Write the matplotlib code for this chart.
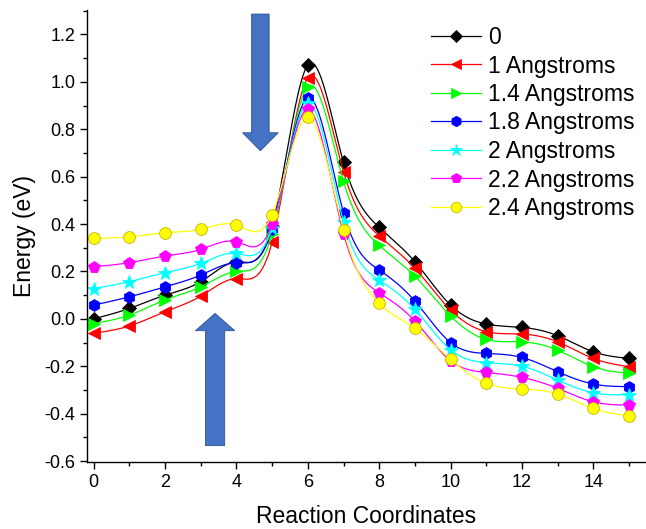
import numpy as np
import matplotlib
matplotlib.use("Agg")
import matplotlib.pyplot as plt
from matplotlib.patches import FancyArrow
from matplotlib.ticker import MultipleLocator

plt.rcParams['font.family'] = ['Liberation Sans', 'DejaVu Sans']
plt.rcParams['axes.unicode_minus'] = False

# reaction coordinate index
x = np.arange(16)

# energies (eV)
e_0 = [0.00, 0.044, 0.10, 0.157, 0.24, 0.39, 1.071, 0.66, 0.386, 0.241,
       0.058, -0.022, -0.036, -0.071, -0.139, -0.167]
e_10 = [-0.061, -0.03, 0.03, 0.096, 0.17, 0.325, 1.017, 0.62, 0.35, 0.213,
        0.037, -0.054, -0.064, -0.097, -0.167, -0.202]
e_14 = [-0.02, 0.016, 0.08, 0.135, 0.20, 0.36, 0.98, 0.58, 0.31, 0.18,
        0.012, -0.087, -0.097, -0.132, -0.202, -0.23]
e_18 = [0.058, 0.093, 0.135, 0.185, 0.237, 0.38, 0.933, 0.448, 0.206, 0.075,
        -0.10, -0.146, -0.163, -0.223, -0.275, -0.286]
e_20 = [0.128, 0.157, 0.195, 0.234, 0.276, 0.385, 0.909, 0.41, 0.164, 0.04,
        -0.13, -0.185, -0.20, -0.258, -0.312, -0.32]
e_22 = [0.22, 0.237, 0.265, 0.293, 0.325, 0.40, 0.884, 0.36, 0.11, -0.009,
        -0.177, -0.226, -0.247, -0.293, -0.35, -0.364]
e_24 = [0.34, 0.346, 0.363, 0.378, 0.396, 0.44, 0.85, 0.375, 0.065, -0.04,
        -0.171, -0.272, -0.296, -0.317, -0.378, -0.41]

labels = ['0', '1 Angstroms', '1.4 Angstroms', '1.8 Angstroms',
          '2 Angstroms', '2.2 Angstroms', '2.4 Angstroms']
series = [e_0, e_10, e_14, e_18, e_20, e_22, e_24]
colors = ['black', '#ff0000', '#00ff00', '#0000ff', '#00ffff', '#ff00ff', '#ffff00']
markers = ['D', '<', '>', 'h', '*', 'p', 'o']
msizes = [7.5, 8.5, 8.5, 8.5, 10, 8.5, 8.5]


def natural_spline(xs, ys, n=600):
    xs = np.asarray(xs, float)
    ys = np.asarray(ys, float)
    k = len(xs)
    h = np.diff(xs)
    A = np.zeros((k, k))
    b = np.zeros(k)
    A[0, 0] = A[-1, -1] = 1
    for i in range(1, k - 1):
        A[i, i - 1] = h[i - 1]
        A[i, i] = 2 * (h[i - 1] + h[i])
        A[i, i + 1] = h[i]
        b[i] = 6 * ((ys[i + 1] - ys[i]) / h[i] - (ys[i] - ys[i - 1]) / h[i - 1])
    M = np.linalg.solve(A, b)
    xf = np.linspace(xs[0], xs[-1], n)
    idx = np.clip(np.searchsorted(xs, xf) - 1, 0, k - 2)
    x0, x1 = xs[idx], xs[idx + 1]
    hh = x1 - x0
    t0, t1 = x1 - xf, xf - x0
    yf = (M[idx] * t0 ** 3 + M[idx + 1] * t1 ** 3) / (6 * hh) \
        + (ys[idx] / hh - M[idx] * hh / 6) * t0 \
        + (ys[idx + 1] / hh - M[idx + 1] * hh / 6) * t1
    return xf, yf


fig = plt.figure(figsize=(6.46, 5.29), dpi=100)
ax = fig.add_axes([87 / 646, 1 - 462 / 529, (645 - 87) / 646, (462 - 10) / 529])

for ys, c, m, ms, lab in zip(series, colors, markers, msizes, labels):
    xf, yf = natural_spline(x, ys)
    ax.plot(xf, yf, color=c, lw=0.9)
    ec = '#c8b400' if c == '#ffff00' else c
    ax.plot(x, ys, ls='none', marker=m, ms=ms, color=c, mec=ec, mew=0.6)
    ax.plot([], [], color=c, lw=0.9, marker=m, ms=ms - 1, mec=ec, mew=0.6, label=lab)

# arrows
arrow_kw = dict(length_includes_head=True, fc='#4472c4', ec='#2f528f', lw=0.6, zorder=5)
ax.add_patch(FancyArrow(4.67, 1.286, 0, 0.709 - 1.286, width=0.49,
                        head_width=1.0, head_length=0.076, **arrow_kw))
ax.add_patch(FancyArrow(3.40, -0.535, 0, 0.023 + 0.535, width=0.54,
                        head_width=1.10, head_length=0.073, **arrow_kw))

ax.set_xlim(-0.19, 15.45)
ax.set_ylim(-0.604, 1.303)
ax.xaxis.set_major_locator(MultipleLocator(2))
ax.xaxis.set_minor_locator(MultipleLocator(1))
ax.yaxis.set_major_locator(MultipleLocator(0.2))
ax.yaxis.set_minor_locator(MultipleLocator(0.1))
ax.yaxis.set_major_formatter(matplotlib.ticker.FormatStrFormatter('%.1f'))
ax.spines['top'].set_visible(False)
ax.spines['right'].set_visible(False)
for s in ['left', 'bottom']:
    ax.spines[s].set_linewidth(1.0)
ax.tick_params(which='major', direction='out', length=5, width=1.0, labelsize=13)
ax.tick_params(which='minor', direction='out', length=3, width=1.0)

ax.set_xlabel('Reaction Coordinates', fontsize=16.5, labelpad=10)
ax.set_ylabel('Energy (eV)', fontsize=16.5, labelpad=6)

ax.legend(loc='upper left', bbox_to_anchor=(431 / 646, 1 - 26 / 529),
          bbox_transform=fig.transFigure, frameon=False, fontsize=16.5,
          handlelength=2.2, handletextpad=0.3, labelspacing=0.24,
          borderpad=0, borderaxespad=0)

fig.savefig('out.png', dpi=100)
